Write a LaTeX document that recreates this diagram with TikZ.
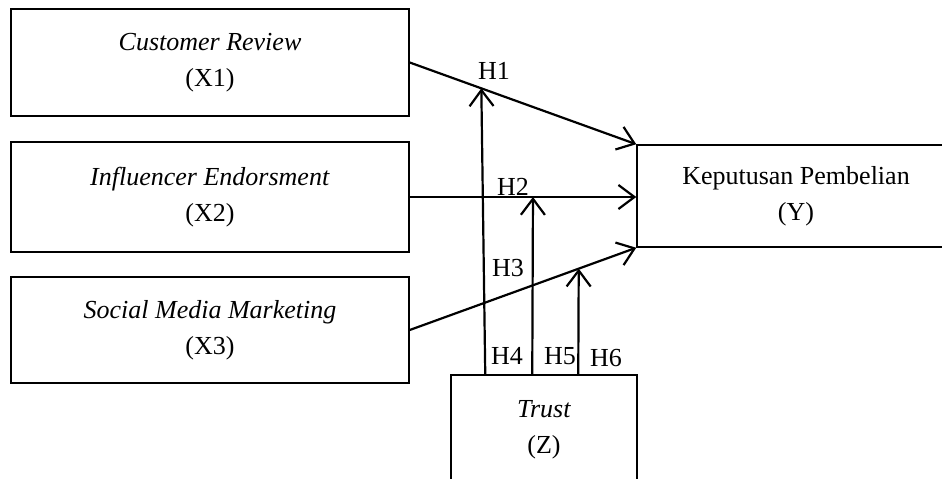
\documentclass[tikz,border=0pt]{standalone}
\usepackage{fontspec}
\setmainfont{Liberation Serif}
\usetikzlibrary{arrows.meta}
\begin{document}
\begin{tikzpicture}[x=1pt,y=-1pt,
  every node/.style={font=\fontsize{26}{36}\selectfont, inner sep=0pt},
  varbox/.style={draw, line width=1.5pt, align=center},
  conn/.style={line width=2.2pt, -{Straight Barb[length=16pt,width=24pt]}},
  lbl/.style={}]
\useasboundingbox (0,0) rectangle (942,479);
\node[varbox, minimum width=398pt, minimum height=107pt] (x1) at (210,62.5) {\textit{Customer Review}\\(X1)};
\node[varbox, minimum width=398pt, minimum height=110pt] (x2) at (210,197) {\textit{Influencer Endorsment}\\(X2)};
\node[varbox, minimum width=398pt, minimum height=106pt] (x3) at (210,330) {\textit{Social Media Marketing}\\(X3)};
\node[varbox, minimum width=318pt, minimum height=102pt] (y) at (796,196) {Keputusan Pembelian\\(Y)};
\node[varbox, minimum width=186pt, minimum height=110pt] (z) at (544,430) {\textit{Trust}\\(Z)};
\draw[conn] (x1.east) -- coordinate[pos=0.316] (p1) (y.north west);
\draw[conn] (x2.east) -- coordinate[pos=0.544] (p2) (x2.east -| y.west);
\draw[conn] (x3.east) -- coordinate[pos=0.746] (p3) (y.south west);
\draw[conn] ([xshift=35pt]z.north west) -- (p1);
\draw[conn] ([xshift=82pt]z.north west) -- (p2);
\draw[conn] ([xshift=128pt]z.north west) -- (p3);
\node[lbl] (h1) at (494,71) {H1};
\node[lbl] (h2) at (513,187) {H2};
\node[lbl] (h3) at (508,268) {H3};
\node[lbl] (h4) at (507,356) {H4};
\node[lbl] (h5) at (560,356) {H5};
\node[lbl] (h6) at (606,358) {H6};
\end{tikzpicture}
\end{document}
